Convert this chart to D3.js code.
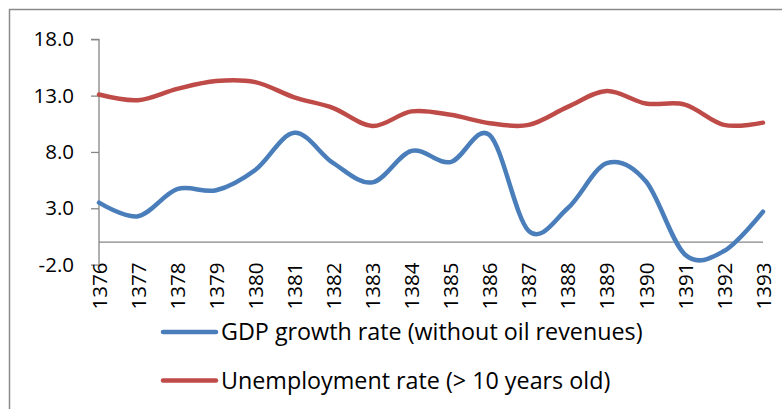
<!DOCTYPE html>
<html><head><meta charset="utf-8">
<script src="https://cdn.jsdelivr.net/npm/d3@7"></script>
<style>body{margin:0;background:#fff}svg{display:block}text{font-family:"Open Sans",Lato,sans-serif;fill:#000}</style>
</head><body><svg id="c" width="782" height="409"></svg>
<script>
const years = ["1376","1377","1378","1379","1380","1381","1382","1383","1384","1385","1386","1387","1388","1389","1390","1391","1392","1393"];
const gdpGrowth = [3.5, 2.3, 4.7, 4.6, 6.4, 9.7, 7.0, 5.3, 8.1, 7.1, 9.5, 1.0, 3.0, 7.0, 5.4, -1.1, -0.8, 2.7];
const unemployment = [13.1, 12.6, 13.6, 14.3, 14.2, 12.85, 11.9, 10.3, 11.6, 11.3, 10.55, 10.4, 12.0, 13.4, 12.3, 12.2, 10.4, 10.6];
const yTicks = [-2, 3, 8, 13, 18];
const seriesNames = ["GDP growth rate (without oil revenues)", "Unemployment rate (> 10 years old)"];
const seriesColors = ["#4a7ebb", "#be4b48"];

const svg = d3.select("#c");
const axisColor = "#868686";
svg.append("path").attr("d","M9.5,420V9.5H800").attr("fill","none").attr("stroke","#8a8a8a").attr("stroke-width",1.5);

const x = d3.scalePoint().domain(years).range([99, 763]);
const y = d3.scaleLinear().domain([-2, 18]).range([264.6, 39.3]);

// y axis
const ya = svg.append("g").attr("transform","translate(99,0)")
  .call(d3.axisLeft(y).tickValues(yTicks).tickFormat(d => d.toFixed(1)).tickSize(8).tickPadding(17));
ya.selectAll("path,line").attr("stroke",axisColor).attr("stroke-width",1.3);
ya.select(".domain").attr("d",`M0,${y(-2)}V${y(18)}H-8`);
ya.selectAll("text").attr("font-size",20.5).attr("font-family",'"Open Sans",sans-serif').attr("fill","#000");

// x axis at zero
const xa = svg.append("g").attr("transform",`translate(0,${y(0)})`)
  .call(d3.axisBottom(x).tickSize(0).tickPadding(0));
xa.select(".domain").attr("stroke",axisColor).attr("stroke-width",1.3).attr("d",`M99,0H763`);
xa.selectAll(".tick text")
  .attr("font-size",20.5).attr("font-family",'"Open Sans",sans-serif').attr("fill","#000")
  .attr("text-anchor","end").attr("dy","0.35em")
  .attr("transform",`translate(0,${y(-2)-y(0)-2}) rotate(-90)`).attr("x",0).attr("y",0);

const line = d3.line().x((d,i)=>x(years[i])).y(d=>y(d)).curve(d3.curveCatmullRom.alpha(0));
[gdpGrowth, unemployment].forEach((s,k)=>{
  svg.append("path").attr("d",line(s)).attr("fill","none").attr("stroke",seriesColors[k])
    .attr("stroke-width",4.5).attr("stroke-linecap","round").attr("stroke-linejoin","round");
});

// legend
const lg = svg.append("g");
seriesNames.forEach((n,k)=>{
  const yy = 332 + k*48.5;
  lg.append("line").attr("x1",163).attr("x2",216).attr("y1",yy).attr("y2",yy)
    .attr("stroke",seriesColors[k]).attr("stroke-width",4.5).attr("stroke-linecap","round");
  lg.append("text").attr("x",221).attr("y",yy).attr("dy","0.35em").attr("font-size",23.3).text(n);
});
</script></body></html>
